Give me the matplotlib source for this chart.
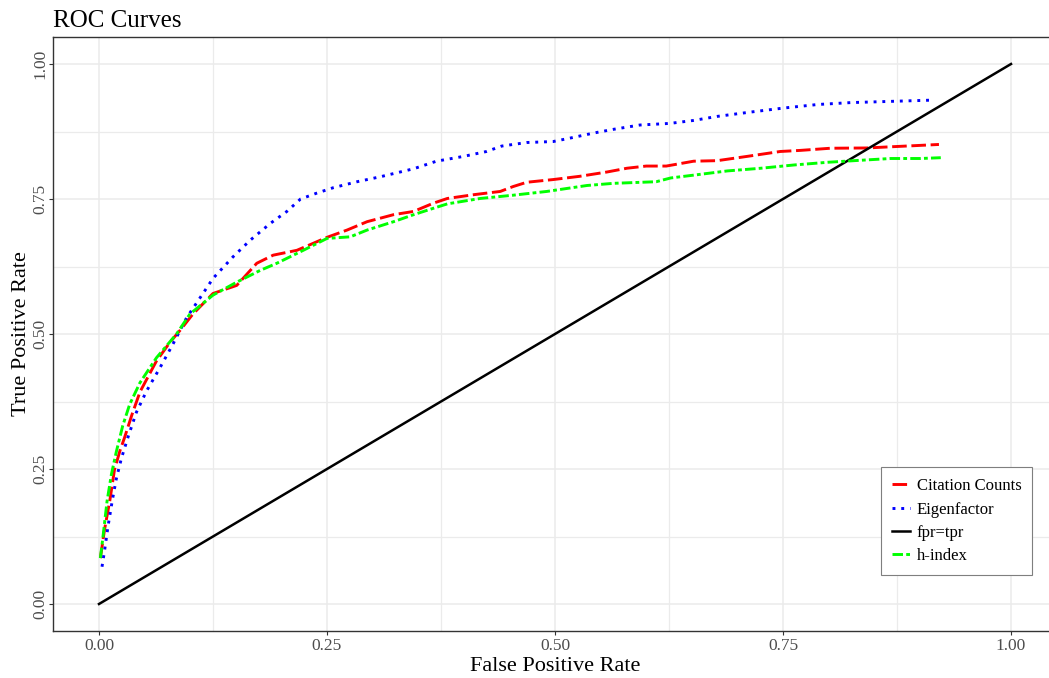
import matplotlib
matplotlib.use("Agg")
from matplotlib import pyplot as plt
from matplotlib.ticker import MultipleLocator

plt.rcParams["font.family"] = ["Liberation Serif", "DejaVu Serif"]

# ROC points per ranking metric
cite_fpr = [0.0015, 0.006, 0.012, 0.017, 0.023, 0.028, 0.036, 0.045, 0.063, 0.078,
            0.089, 0.103, 0.125, 0.151, 0.173, 0.191, 0.217, 0.235, 0.25, 0.272,
            0.294, 0.323, 0.345, 0.367, 0.382, 0.411, 0.44, 0.454, 0.469, 0.498,
            0.527, 0.557, 0.579, 0.60, 0.622, 0.652, 0.678, 0.711, 0.747, 0.769,
            0.802, 0.842, 0.872, 0.897, 0.921]
cite_tpr = [0.085, 0.137, 0.193, 0.249, 0.284, 0.308, 0.350, 0.393, 0.450, 0.485,
            0.507, 0.537, 0.575, 0.590, 0.631, 0.646, 0.655, 0.668, 0.679, 0.6925,
            0.708, 0.721, 0.727, 0.7425, 0.751, 0.758, 0.764, 0.773, 0.781, 0.786,
            0.792, 0.800, 0.807, 0.811, 0.811, 0.820, 0.821, 0.829, 0.838, 0.840,
            0.844, 0.8445, 0.847, 0.849, 0.851]

eigen_fpr = [0.0033, 0.0062, 0.0099, 0.0147, 0.019, 0.0246, 0.032, 0.041, 0.052, 0.067,
             0.081, 0.096, 0.114, 0.125, 0.147, 0.166, 0.188, 0.206, 0.221, 0.239,
             0.257, 0.283, 0.308, 0.345, 0.370, 0.40, 0.425, 0.4415, 0.469, 0.498,
             0.516, 0.542, 0.564, 0.593, 0.626, 0.652, 0.678, 0.7145, 0.751, 0.788,
             0.824, 0.872, 0.912]
eigen_tpr = [0.069, 0.100, 0.144, 0.193, 0.232, 0.270, 0.310, 0.355, 0.394, 0.438,
             0.481, 0.530, 0.575, 0.603, 0.643, 0.674, 0.705, 0.727, 0.75, 0.761,
             0.771, 0.782, 0.791, 0.806, 0.82, 0.829, 0.838, 0.848, 0.8546, 0.8564,
             0.8626, 0.872, 0.879, 0.887, 0.890, 0.8955, 0.903, 0.911, 0.9185, 0.925,
             0.9285, 0.931, 0.933]

diag_fpr = [0.0, 1.0]
diag_tpr = [0.0, 1.0]

h_fpr = [0.0015, 0.0044, 0.0088, 0.0136, 0.019, 0.026, 0.0337, 0.045, 0.063, 0.085,
         0.0997, 0.125, 0.151, 0.177, 0.195, 0.224, 0.25, 0.2756, 0.294, 0.323,
         0.345, 0.367, 0.382, 0.418, 0.454, 0.491, 0.535, 0.564, 0.611, 0.627,
         0.656, 0.689, 0.726, 0.762, 0.799, 0.828, 0.868, 0.901, 0.923]
h_tpr = [0.085, 0.125, 0.190, 0.240, 0.282, 0.330, 0.370, 0.410, 0.456, 0.5,
         0.537, 0.572, 0.596, 0.618, 0.631, 0.655, 0.677, 0.680, 0.6925, 0.708,
         0.721, 0.733, 0.741, 0.751, 0.757, 0.764, 0.775, 0.779, 0.782, 0.789,
         0.795, 0.802, 0.807, 0.813, 0.818, 0.821, 0.825, 0.825, 0.8265]

W, H = 1049, 678
fig = plt.figure(figsize=(W / 100, H / 100), dpi=100)
# panel runs a little past the right edge of the canvas
ax = fig.add_axes([53.4 / W, 47 / H, 1003.2 / W, 594 / H])

lw = 2.1
ax.plot(cite_fpr, cite_tpr, color="#ff0000", lw=lw, dashes=(5.0, 1.6), label="Citation Counts")
ax.plot(eigen_fpr, eigen_tpr, color="#0000ff", lw=lw, dashes=(1.0, 2.0), label="Eigenfactor")
ax.plot(diag_fpr, diag_tpr, color="black", lw=1.8, label="fpr=tpr")
ax.plot(h_fpr, h_tpr, color="#00ff00", lw=lw, dashes=(3.6, 1.1, 1.3, 1.1), label="h-index")

ax.set_xlim(-0.05, 1.05)
ax.set_ylim(-0.05, 1.05)
ax.xaxis.set_major_locator(MultipleLocator(0.25))
ax.yaxis.set_major_locator(MultipleLocator(0.25))
ax.xaxis.set_minor_locator(MultipleLocator(0.125))
ax.yaxis.set_minor_locator(MultipleLocator(0.125))
ax.xaxis.set_major_formatter(lambda v, p: f"{v:.2f}")
ax.yaxis.set_major_formatter(lambda v, p: f"{v:.2f}")

ax.set_axisbelow(True)
ax.grid(which="major", color="#ebebeb", lw=1.1)
ax.grid(which="minor", color="#ebebeb", lw=0.9)
for s in ax.spines.values():
    s.set_color("#333333")
    s.set_linewidth(1.0)

ax.tick_params(which="major", length=3, width=0.8, color="#333333",
               labelsize=12.5, labelcolor="#4d4d4d", pad=2)
ax.tick_params(axis="y", which="major", pad=0.8)
ax.tick_params(which="minor", length=0)
for t in ax.get_yticklabels():
    t.set_rotation(90)
    t.set_va("center")

ax.set_xlabel("False Positive Rate", fontsize=16, labelpad=2)
ax.set_ylabel("True Positive Rate", fontsize=16, labelpad=0.5)
ax.set_title("ROC Curves", loc="left", fontsize=18, pad=7)

leg = ax.legend(loc="upper left", bbox_to_anchor=(880.7 / W, 1 - 467.3 / H),
                bbox_transform=fig.transFigure, borderaxespad=0, fontsize=12,
                handlelength=1.1, handletextpad=0.4, borderpad=0.66,
                labelspacing=0.44, fancybox=False, framealpha=1)
leg.get_frame().set_edgecolor("#7f7f7f")
leg.get_frame().set_linewidth(0.8)

fig.savefig("out.png", dpi=100)
